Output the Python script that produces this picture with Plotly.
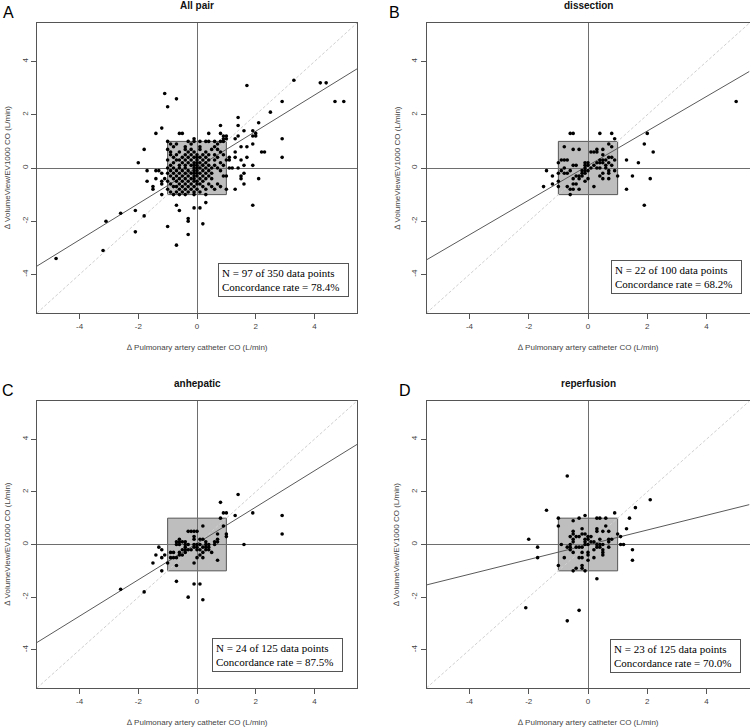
import plotly.graph_objects as go

# ---------------- data ----------------
AX_RANGE = [-5.45, 5.45]
tick_vals = [-4, -2, 0, 2, 4]
tick_labels = ["-4", "-2", "0", "2", "4"]

panel_letters = ["A", "B", "C", "D"]
panel_titles = ["All pair", "dissection", "anhepatic", "reperfusion"]
n_outside = [97, 22, 24, 23]
n_total = [350, 100, 125, 125]
concordance = [78.4, 68.2, 87.5, 70.0]
reg_slope = [0.68, 0.65, 0.69, 0.28]
reg_intercept = [0.02, 0.09, 0.04, -0.01]
exclusion_zone = [-1.0, 1.0]

TRI = "\u2206"
x_title = TRI + " Pulmonary artery catheter CO (L/min)"
y_title = TRI + " VolumeView/EV1000 CO (L/min)"

# Panel A: points outside the central exclusion box
pts_A_out = [(-4.8, -3.4), (-3.2, -3.1), (-3.1, -2.0), (-2.6, -1.7), (-2.1, -1.6), (-2.1, -2.4),
             (-1.8, -1.8), (-2.0, 0.2), (-1.8, 0.7), (-1.7, -0.1), (-1.7, -0.5), (-1.4, 1.3),
             (-1.2, 1.5), (-1.1, 2.8), (-1.0, 2.3), (-0.7, 2.6), (-1.4, -0.1), (-1.3, -0.1),
             (-1.4, -0.4), (-1.5, -0.8), (-1.5, -0.7), (-1.2, -0.2), (-1.2, -0.5), (-1.1, -0.4),
             (-1.2, -0.6), (-1.2, -1.0), (-1.0, -2.2), (-0.7, -1.4), (-0.6, -1.6), (-0.7, -2.9),
             (-0.3, -1.9), (-0.3, -2.0), (-0.3, -2.5), (-0.1, -1.5), (0.1, -1.5), (0.2, -2.1),
             (0.3, -1.3), (-0.6, 1.3), (-0.5, 1.3), (-0.1, 1.1), (0.4, 1.3), (0.8, 1.3), (0.8, 1.6),
             (0.9, 1.1), (1.0, 1.1), (0.9, 1.2), (1.0, 1.2), (1.3, 1.1), (1.4, 1.2), (1.4, 1.6),
             (1.4, 1.9), (1.7, 3.1), (2.1, 1.7), (1.6, 1.4), (1.9, 1.4), (2.0, 1.2), (1.9, 1.2),
             (1.9, 0.9), (1.7, 0.8), (1.5, 0.8), (2.0, 1.3), (2.5, 2.1), (2.9, 2.5), (3.3, 3.3),
             (4.2, 3.2), (4.4, 3.2), (4.7, 2.5), (5.0, 2.5), (2.9, 1.1), (2.9, 0.4), (2.2, 0.6),
             (2.3, 0.6), (1.7, 0.4), (1.9, 0.1), (1.6, 0.1), (2.1, -0.4), (1.9, -1.4), (1.3, -0.8),
             (1.6, -0.6), (1.6, -0.2), (1.5, -0.3), (1.5, -0.4), (1.3, 0.6), (1.3, 0.4), (1.5, 0.3),
             (1.0, -0.8), (1.0, -0.3), (1.1, 0.4), (1.1, 0.3), (1.1, 0.0), (1.2, 0.0), (1.4, 0.0)]
# Panel A: points inside the exclusion box, by row (y: list of x)
pts_A_box_rows = {
    1.0: [-1.0, -0.3, -0.1, 0.1, 0.3, 0.4, 0.6, 0.8, 0.9],
    0.9: [-0.9, -0.7, -0.2, 0.7],
    0.8: [-0.8, -0.4, 0.1, 0.6],
    0.7: [-1.0, -0.4, -0.2, 0.1, 0.5, 0.7],
    0.6: [-0.9, -0.6, -0.3, -0.1, 0.3, 0.8],
    0.5: [-0.9, -0.7, -0.4, -0.2, 0.0, 0.2, 0.4, 0.6, 0.9],
    0.4: [-0.8, -0.5, -0.3, -0.1, 0.0, 0.1, 0.3, 0.7],
    0.3: [-1.0, -0.7, -0.6, -0.4, -0.2, 0.0, 0.2, 0.4, 0.6, 1.0],
    0.2: [-0.8, -0.5, -0.3, -0.1, 0.0, 0.1, 0.3, 0.8],
    0.1: [-0.9, -0.6, -0.4, -0.2, -0.1, 0.0, 0.2, 0.4, 0.6, 0.9],
    0.0: [-1.0, -0.8, -0.6, -0.4, -0.1, 0.0, 0.1, 0.3, 0.5, 0.7],
    -0.1: [-0.9, -0.7, -0.5, -0.3, -0.1, 0.0, 0.2, 0.4, 0.8],
    -0.2: [-1.0, -0.8, -0.6, -0.4, -0.2, -0.1, 0.0, 0.1, 0.3, 0.5],
    -0.3: [-0.9, -0.7, -0.5, -0.3, -0.1, 0.0, 0.2, 0.4, 0.9],
    -0.4: [-0.8, -0.6, -0.4, -0.2, -0.1, 0.1, 0.3, 0.5],
    -0.5: [-1.0, -0.7, -0.5, -0.3, -0.1, 0.0, 0.2],
    -0.6: [-0.9, -0.6, -0.4, -0.2, 0.0, 0.1, 0.4, 0.7],
    -0.7: [-0.8, -0.7, -0.5, -0.3, -0.1, 0.2, 0.5, 0.8],
    -0.8: [-1.0, -0.6, -0.4, -0.2, 0.0, 0.3, 0.6],
    -0.9: [-0.9, -0.7, -0.5, -0.3, -0.1, 0.1],
    -1.0: [-0.8, -0.6, -0.4, -0.1, 0.3],
}

pts_B = [(-0.6, 1.3), (-0.5, 1.3), (0.4, 1.3), (0.8, 1.3), (2.0, 1.3), (0.9, 1.1), (1.9, 0.9),
         (2.2, 0.6), (1.3, 0.3), (1.7, 0.2), (-1.4, -0.1), (-1.2, -0.3), (-1.5, -0.7), (-1.2, -0.6),
         (1.3, -0.8), (1.5, -0.3), (2.1, -0.4), (1.9, -1.4), (5.0, 2.5),
         (-0.8, 0.8), (-0.5, 0.7), (-0.3, 0.7), (0.7, 0.9), (0.8, 0.8), (0.1, 0.6), (0.2, 0.6),
         (0.3, 0.6), (0.3, 0.7), (0.5, 0.7), (0.5, 0.5), (0.7, 0.4), (0.8, 0.4), (0.9, 0.3),
         (0.4, 0.3), (0.5, 0.3), (0.6, 0.3), (0.4, 0.2), (0.5, 0.2), (0.3, 0.2), (-1.0, 0.2),
         (-0.8, 0.3), (-0.7, 0.3), (-0.5, 0.1), (-0.4, 0.1), (-0.1, 0.2), (0.0, 0.2), (-0.1, 0.1),
         (0.0, 0.1), (0.1, 0.0), (-0.1, 0.0), (0.3, 0.0), (0.4, 0.0), (0.6, 0.1), (0.7, 0.2),
         (-1.0, -0.2), (-1.0, -0.5), (-1.0, -0.7), (-0.9, -0.1), (-0.7, -0.2), (-0.7, -0.7),
         (-0.6, -0.1), (-0.6, -0.8), (-0.5, -0.4), (-0.5, -0.6), (-0.4, -0.3), (-0.4, -0.6),
         (-0.5, -0.8), (-0.6, -1.0), (-0.3, -0.8), (-0.3, -0.3), (-0.3, -0.4), (-0.2, -0.2),
         (-0.2, -0.1), (-0.1, -0.2), (-0.1, -0.1), (0.0, -0.4), (-0.1, -0.5), (0.2, -0.7),
         (0.7, -0.1), (0.7, -0.2), (0.7, -0.4), (0.6, 0.0), (0.9, -0.1), (1.0, -0.3), (0.5, -0.2),
         (0.4, -0.3), (0.5, -0.4), (-0.8, -0.2), (-0.2, -0.3), (0.0, -0.1), (0.2, 0.1), (0.8, 0.1),
         (-0.8, 0.0), (-0.9, 0.3)]

pts_C = [(-2.6, -1.7), (-1.8, -1.8), (-0.7, -1.4), (-0.1, -1.5), (0.1, -1.5), (-0.3, -2.0),
         (0.2, -2.1), (1.4, 1.9), (0.8, 1.6), (0.9, 1.2), (1.0, 1.2), (1.3, 1.1), (1.9, 1.2),
         (2.9, 1.1), (2.9, 0.4), (1.6, 0.0), (-1.3, -0.1), (-1.2, -0.2), (-1.4, -0.4), (-1.5, -0.7),
         (-1.2, -0.5), (-1.1, -0.4), (-1.2, -1.0),
         (0.8, 1.0), (0.9, 0.7), (1.0, 0.4), (1.0, 0.3), (0.7, 0.4), (0.7, 0.2), (0.7, 0.1),
         (0.7, -0.6), (0.2, 0.7), (-0.3, 0.5), (-0.2, 0.5), (-0.1, 0.5), (0.0, 0.5), (-0.1, 0.3),
         (-0.1, 0.2), (0.2, 0.2), (0.1, 0.2), (-0.7, 0.1), (-0.6, 0.1), (-0.5, 0.1), (-0.4, 0.1),
         (-0.6, 0.2), (-0.7, 0.0), (-0.6, 0.0), (-0.4, 0.0), (-0.3, 0.0), (-0.4, -0.1), (-0.4, -0.2),
         (-0.4, -0.3), (-0.1, 0.0), (0.0, 0.0), (0.1, 0.0), (0.2, -0.1), (-0.1, -0.1), (0.0, -0.1),
         (0.0, -0.2), (0.3, 0.1), (0.3, 0.0), (0.3, -0.1), (0.3, -0.2), (0.4, 0.0), (0.4, -0.1),
         (0.4, -0.2), (0.5, -0.3), (0.6, 0.0), (0.6, 0.1), (0.1, -0.4), (0.2, -0.5), (0.0, -0.5),
         (-0.1, -0.7), (-0.9, -0.3), (-0.8, -0.3), (-0.9, -0.5), (-0.8, -0.5), (-0.7, -0.5),
         (-0.6, -0.4), (-0.5, -0.4), (-0.7, -0.8), (-1.0, -0.7), (-0.2, -0.2), (-0.5, -0.2),
         (-0.3, -0.2), (-0.6, -0.3), (0.1, -0.2), (0.2, -0.3)]

pts_D = [(-0.7, 2.6), (2.1, 1.7), (1.6, 1.4), (-1.4, 1.3), (0.9, 1.2), (1.4, 1.0), (1.3, 0.6),
         (1.1, 0.3), (1.1, 0.0), (1.2, 0.0), (1.5, -0.2), (1.5, -0.6), (-2.0, 0.2), (-1.7, -0.1),
         (-1.7, -0.5), (-2.1, -2.4), (-0.3, -2.5), (-0.7, -2.9), (0.3, -1.3), (-0.1, 1.1),
         (-1.0, 1.0), (-1.0, 0.7), (-1.0, -0.8), (-0.3, 1.0), (-0.5, 0.9), (0.3, 1.0), (0.4, 1.0),
         (0.6, 1.0), (0.3, 0.6), (0.3, 0.5), (0.6, 0.7), (0.5, 0.5), (0.7, 0.5), (-0.2, 0.6),
         (-0.5, 0.5), (-0.5, 0.4), (-0.6, 0.3), (-0.4, 0.3), (-0.5, 0.2), (-0.2, 0.4), (-0.1, 0.4),
         (-0.1, 0.2), (0.0, 0.3), (0.0, 0.2), (0.4, 0.2), (0.7, 0.1), (0.8, 0.2), (0.7, 0.2),
         (1.0, 0.4), (-0.9, 0.0), (-0.6, -0.1), (-0.6, 0.0), (-0.6, -0.2), (-0.5, -0.3),
         (-0.4, -0.1), (-0.3, -0.1), (-0.2, -0.1), (-0.1, 0.0), (0.0, 0.0), (0.1, 0.1), (0.2, -0.2),
         (0.3, 0.0), (0.4, 0.0), (0.3, -0.1), (0.4, -0.1), (0.5, -0.2), (0.5, -0.3), (0.5, -0.4),
         (0.7, -0.1), (-0.8, -0.5), (-0.3, -0.5), (-0.2, -0.5), (0.0, -0.4), (0.0, -0.6),
         (0.2, -0.5), (-0.2, -0.3), (0.0, -0.3), (-0.2, -0.8), (-0.2, -0.9), (-0.4, -0.9),
         (-0.5, -1.0), (-0.1, -1.0), (-0.5, 0.1), (-0.1, 0.1), (0.1, 0.3), (0.5, 0.0), (0.2, 0.1),
         (-0.7, -0.1), (-0.3, 0.3)]

pts_A = list(pts_A_out)
for yv, xs in pts_A_box_rows.items():
    for xv in xs:
        pts_A.append((xv, yv))
panel_points = [pts_A, pts_B, pts_C, pts_D]

# ---------------- layout geometry (pixels of a 750x727 canvas) ----------------
W, H = 750, 727
plot_px = [  # left, right, top, bottom
    (37, 357, 23, 313),
    (426.5, 749.5, 23, 313),
    (37, 357, 401, 688),
    (426.5, 749.5, 401, 688),
]
legend_anchor = [(5.19, -4.83), (5.19, -4.74), (4.98, -4.83), (5.16, -4.88)]

SANS = "Liberation Sans, Arial, sans-serif"
SERIF = "Liberation Serif, Times New Roman, serif"
FRAME = "#555555"

fig = go.Figure()
annotations = []
shapes = []

for i in range(4):
    L, R, T, B = plot_px[i]
    xa = "x" if i == 0 else f"x{i+1}"
    ya = "y" if i == 0 else f"y{i+1}"
    xkey = "xaxis" if i == 0 else f"xaxis{i+1}"
    ykey = "yaxis" if i == 0 else f"yaxis{i+1}"
    common = dict(range=AX_RANGE, showgrid=False, zeroline=True, zerolinecolor="#6e6e6e",
                  zerolinewidth=1.2, showline=True, mirror=True, linecolor=FRAME, linewidth=1,
                  ticks="outside", ticklen=5, tickcolor=FRAME, tickwidth=1,
                  tickvals=tick_vals, ticktext=tick_labels,
                  tickfont=dict(family=SANS, size=8, color="#444444"), fixedrange=True)
    fig.update_layout(**{
        xkey: dict(domain=[L / W, R / W], anchor=ya, **common),
        ykey: dict(domain=[1 - B / H, 1 - T / H], anchor=xa, tickangle=-90, **common),
    })

    # exclusion box
    shapes.append(dict(type="rect", xref=xa, yref=ya, x0=exclusion_zone[0], x1=exclusion_zone[1],
                       y0=exclusion_zone[0], y1=exclusion_zone[1], fillcolor="#bebebe",
                       line=dict(color="#555555", width=1), layer="below"))

    # identity line
    fig.add_trace(go.Scatter(x=AX_RANGE, y=AX_RANGE, xaxis=xa, yaxis=ya, mode="lines",
                             line=dict(color="#cfcfcf", width=1, dash="3px,2px"),
                             showlegend=False, hoverinfo="skip"))
    # regression line
    fig.add_trace(go.Scatter(x=AX_RANGE,
                             y=[reg_slope[i] * v + reg_intercept[i] for v in AX_RANGE],
                             xaxis=xa, yaxis=ya, mode="lines",
                             line=dict(color="#5a5a5a", width=1),
                             showlegend=False, hoverinfo="skip"))
    # points
    pts = panel_points[i]
    fig.add_trace(go.Scatter(x=[p[0] for p in pts], y=[p[1] for p in pts], xaxis=xa, yaxis=ya,
                             mode="markers", marker=dict(color="black", size=3.6),
                             showlegend=False, cliponaxis=False))

    cx = (L + R) / 2 / W
    cy = 1 - (T + B) / 2 / H
    # title
    annotations.append(dict(text=f"<b>{panel_titles[i]}</b>", xref="paper", yref="paper",
                            x=cx, y=1 - (T - 18) / H, xanchor="center", yanchor="middle",
                            showarrow=False, font=dict(family=SANS, size=10, color="#111111")))
    # panel letter
    letter_x = 8 if i % 2 == 0 else (394 if i == 1 else 405)
    annotations.append(dict(text=panel_letters[i], xref="paper", yref="paper",
                            x=letter_x / W, y=1 - (T - 10.5) / H, xanchor="center",
                            yanchor="middle", showarrow=False,
                            font=dict(family=SANS, size=16, color="black")))
    # axis titles
    annotations.append(dict(text=x_title, xref="paper", yref="paper", x=cx,
                            y=1 - (B + 34) / H, xanchor="center", yanchor="middle",
                            showarrow=False, font=dict(family=SANS, size=8, color="#444444")))
    annotations.append(dict(text=y_title, xref="paper", yref="paper", x=(L - 30) / W,
                            y=cy, xanchor="center", yanchor="middle", textangle=-90,
                            showarrow=False, font=dict(family=SANS, size=8, color="#444444")))
    # concordance legend box
    lx, ly = legend_anchor[i]
    annotations.append(dict(
        text=f"N = {n_outside[i]} of {n_total[i]} data points<br>Concordance rate = {concordance[i]:.1f}%",
        xref=xa, yref=ya, x=lx, y=ly, xanchor="right", yanchor="bottom", align="left",
        showarrow=False, bgcolor="white", bordercolor="#555555", borderwidth=1, borderpad=3,
        width=123, font=dict(family=SERIF, size=11, color="black")))

fig.update_layout(width=W, height=H, margin=dict(l=0, r=0, t=0, b=0),
                  paper_bgcolor="white", plot_bgcolor="white",
                  annotations=annotations, shapes=shapes, showlegend=False)

fig.write_html("out.html", config={"displayModeBar": False},
               post_script="document.body.style.margin='0';document.body.style.overflow='hidden';")
